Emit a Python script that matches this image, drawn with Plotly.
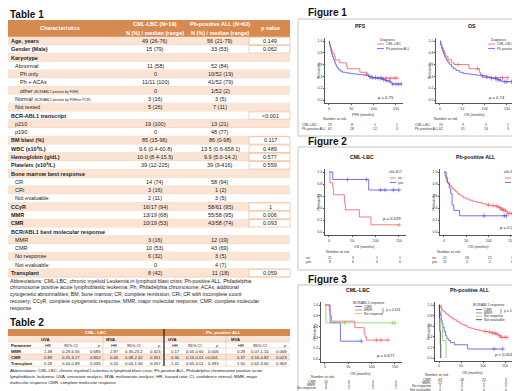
import numpy as np
import plotly.graph_objects as go

W, H = 520, 391
def X(px): return px / W
def Y(py): return 1 - py / H

FONT = "Liberation Sans"
ORANGE = "#D68A50"
PEACH = "#FBE4D4"
ORLINE = "#EDBB98"
TXT = "#1a1a1a"
RED = "#EC5A62"
BLUE = "#5252E6"
GREEN = "#86D064"
BLACK = "#222222"

# ---------------- Table 1 data ----------------
t1_labels = ["Age, years", "Gender (Male)", "Karyotype", "Abnormal", "Ph only", "Ph + ACAs",
             "other <span style='font-size:3.4px'>(BCR/ABL1 positive by FISH)</span>",
             "Normal <span style='font-size:3.4px'>(BCR/ABL1 positive by FISH or PCR)</span>",
             "Not tested", "BCR-ABL1 transcript", "p210", "p190", "BM blast (%)",
             "WBC (x10<sup>9</sup>/L)", "Hemoglobin (g/dL)", "Platelets (x10<sup>9</sup>/L)",
             "Bone marrow best response", "CR", "CRi", "Not evaluable", "CCyR", "MMR", "CMR",
             "BCR/ABL1 best molecular response", "MMR", "CMR", "No response", "Not evaluable",
             "Transplant"]
t1_level = [0, 0, 0, 1, 2, 2, 2, 1, 1, 0, 1, 1, 0, 0, 0, 0, 0, 1, 1, 1, 0, 0, 0, 0, 1, 1, 1, 1, 0]
t1_cml = ["49 (26-76)", "15 (79)", "", "11 (58)", "0", "11/11 (100)", "0", "3 (16)", "5 (26)", "",
          "19 (100)", "0", "85 (15-96)", "9.6 (0.4-60.8)", "10.0 (8.4-15.5)", "39 (12-225)", "",
          "14 (74)", "3 (16)", "2 (11)", "16/17 (94)", "13/19 (68)", "10/19 (53)", "",
          "3 (16)", "10 (53)", "6 (32)", "0", "8 (42)"]
t1_ph = ["56 (21-79)", "33 (53)", "", "52 (84)", "10/52 (19)", "41/52 (79)", "1/52 (2)", "3 (5)",
         "7 (11)", "", "13 (21)", "48 (77)", "86 (0-98)", "13.5 (0.6-658.1)", "9.9 (5.0-14.2)",
         "39 (9-416)", "", "58 (94)", "1 (2)", "3 (5)", "58/61 (95)", "55/58 (95)", "43/58 (74)", "",
         "12 (19)", "43 (69)", "3 (5)", "4 (7)", "11 (18)"]
t1_p = ["0.149", "0.062", "", "", "", "", "", "", "", "&lt;0.001", "", "", "0.117", "0.489", "0.577",
        "0.559", "", "", "", "", "1", "0.006", "0.093", "", "", "", "", "", "0.059"]
t1_abbrev = [
    "Abbreviations: CML-LBC, chronic myeloid Leukemia in lymphoid blast crisis; Ph-positive ALL, Philadelphia",
    "chromosome positive acute lymphoblastic leukemia; Ph, Philadelphia chromosome; ACAs, additional",
    "cytogenetic abnormalities; BM, bone marrow; CR, complete remission; CRi, CR with incomplete count",
    "recovery; CCyR, complete cytogenetic response; MMR, major molecular response; CMR, complete molecular",
    "response"]

# ---------------- Table 2 data ----------------
t2_params = ["MMR", "CMR", "Transplant"]
t2_cml_uva_hr = ["1.38", "0.89", "0.18"]
t2_cml_uva_ci = ["0.29-6.55", "0.25-3.17", "0.04-0.89"]
t2_cml_uva_p = ["0.685", "0.852", "0.035"]
t2_cml_mva_hr = ["2.87", "0.45", "0.20"]
t2_cml_mva_ci = ["0.35-23.2", "0.08-2.42", "0.04-1.05"]
t2_cml_mva_p = ["0.323", "0.351", "0.057"]
t2_ph_uva_hr = ["0.17", "0.30", "1.41"]
t2_ph_uva_ci = ["0.05-0.60", "0.15-0.61", "0.65-3.01"]
t2_ph_uva_p = ["0.006", "&lt;0.001", "0.393"]
t2_ph_mva_hr = ["0.28", "0.37", "1.50"]
t2_ph_mva_ci = ["0.07-1.10", "0.16-0.82", "0.62-3.60"]
t2_ph_mva_p = ["0.068", "0.023", "0.369"]
t2_abbrev = [
    "Abbreviations: CML-LBC, chronic myeloid Leukemia in lymphoid blast crisis; Ph-positive ALL, Philadelphia chromosome positive acute",
    "lymphoblastic leukemia; UVA, univariate analysis; MVA, multivariate analysis; HR, hazard ratio; CI, confidence interval; MMR, major",
    "molecular response CMR, complete molecular response"]

# ---------------- Survival curve data ----------------
f1_pfs_cml_t = [0, 1, 3, 5, 8, 12, 14, 24, 39, 41, 69, 84, 88, 91, 152]
f1_pfs_cml_s = [1.0, 0.95, 0.89, 0.84, 0.79, 0.74, 0.68, 0.63, 0.58, 0.53, 0.47, 0.44, 0.40, 0.37, 0.37]
f1_pfs_cml_c = [84, 118, 128, 137, 146, 152]
f1_pfs_ph_t = [0, 1, 2, 3, 4, 5, 6, 8, 10, 12, 14, 16, 18, 21, 25, 30, 38, 46, 55, 65, 78, 88, 97,
               108, 118, 126, 131, 137, 141, 162]
f1_pfs_ph_s = [1.0, 0.95, 0.92, 0.89, 0.85, 0.81, 0.77, 0.73, 0.69, 0.65, 0.61, 0.58, 0.55, 0.52,
               0.49, 0.47, 0.46, 0.45, 0.44, 0.43, 0.42, 0.40, 0.38, 0.37, 0.35, 0.33, 0.32, 0.30,
               0.27, 0.27]
f1_pfs_ph_c = [92, 98, 104, 110, 116, 122, 128, 135, 143, 150, 156, 162]

f1_os_cml_t = [0, 2, 4, 7, 10, 13, 18, 26, 32, 65, 88, 91, 96, 152]
f1_os_cml_s = [1.0, 0.95, 0.89, 0.84, 0.79, 0.74, 0.68, 0.63, 0.60, 0.53, 0.47, 0.42, 0.38, 0.38]
f1_os_cml_c = [40, 84, 125, 140, 152]
f1_os_ph_t = [0, 1, 2, 4, 6, 8, 10, 12, 15, 18, 22, 26, 30, 36, 44, 52, 62, 72, 82, 92, 104, 114,
              122, 130, 136, 142, 160]
f1_os_ph_s = [1.0, 0.95, 0.92, 0.87, 0.82, 0.78, 0.74, 0.71, 0.67, 0.63, 0.60, 0.56, 0.53, 0.50,
              0.47, 0.45, 0.44, 0.43, 0.42, 0.41, 0.39, 0.37, 0.36, 0.34, 0.32, 0.31, 0.31]
f1_os_ph_c = [95, 105, 115, 125, 130, 135, 145, 150, 160]

f2_cml_no_t = [0, 2, 8, 10, 33, 35, 65, 90, 150]
f2_cml_no_s = [1.0, 0.82, 0.73, 0.62, 0.49, 0.37, 0.25, 0.12, 0.12]
f2_cml_no_c = [150]
f2_cml_yes_t = [0, 8, 85, 150]
f2_cml_yes_s = [1.0, 0.875, 0.70, 0.70]
f2_cml_yes_c = [40, 80, 110, 120, 138, 150]

f2_ph_no_t = [0, 2, 4, 6, 9, 12, 15, 18, 21, 25, 29, 33, 38, 43, 50, 57, 65, 75, 85, 95, 105, 115,
              121, 127, 133, 138, 142, 160]
f2_ph_no_s = [1.0, 0.94, 0.88, 0.84, 0.80, 0.78, 0.76, 0.73, 0.71, 0.68, 0.65, 0.62, 0.60, 0.57,
              0.55, 0.53, 0.51, 0.49, 0.47, 0.45, 0.44, 0.43, 0.41, 0.38, 0.36, 0.34, 0.31, 0.31]
f2_ph_no_c = [100, 110, 118, 124, 128, 131, 134, 137, 145, 150, 155, 160]
f2_ph_yes_t = [0, 5, 8, 12, 15, 18, 22, 35, 140]
f2_ph_yes_s = [1.0, 0.91, 0.82, 0.73, 0.64, 0.45, 0.36, 0.27, 0.27]
f2_ph_yes_c = [90, 135, 140]

f3_cml_cmr_t = [0, 11, 33, 78]
f3_cml_cmr_s = [1.0, 0.67, 0.33, 0.33]
f3_cml_cmr_c = [78]
f3_cml_mmr_t = [0, 9, 11, 14, 64, 84, 86, 89, 135]
f3_cml_mmr_s = [1.0, 0.9, 0.8, 0.7, 0.58, 0.47, 0.41, 0.35, 0.35]
f3_cml_mmr_c = [110, 120, 135]
f3_cml_nr_t = [0, 2, 150]
f3_cml_nr_s = [1.0, 0.67, 0.67]
f3_cml_nr_c = [42, 145, 150]

f3_ph_cmr_t = [0, 1, 2, 3, 5, 7, 9, 12, 15, 18, 22, 26, 35, 65, 145]
f3_ph_cmr_s = [1.0, 0.9, 0.85, 0.8, 0.72, 0.65, 0.58, 0.5, 0.42, 0.36, 0.33, 0.29, 0.25, 0.17, 0.17]
f3_ph_cmr_c = [125, 145]
f3_ph_mmr_t = [0, 2, 4, 6, 9, 12, 15, 18, 22, 26, 30, 35, 40, 46, 52, 58, 64, 72, 80, 90, 100, 110,
               120, 128, 136, 140, 155]
f3_ph_mmr_s = [1.0, 0.97, 0.94, 0.92, 0.89, 0.87, 0.84, 0.82, 0.79, 0.77, 0.74, 0.72, 0.69, 0.66,
               0.63, 0.61, 0.58, 0.56, 0.54, 0.52, 0.50, 0.49, 0.47, 0.45, 0.42, 0.39, 0.39]
f3_ph_mmr_c = [105, 115, 122, 127, 132, 138, 143, 150, 155]
f3_ph_nr_t = [0, 6, 8, 16]
f3_ph_nr_s = [1.0, 0.67, 0.33, 0.0]
f3_ph_nr_c = []
f3_ph_ne_t = [0, 1, 2, 3, 4]
f3_ph_ne_s = [1.0, 0.75, 0.5, 0.25, 0.0]
f3_ph_ne_c = []

# number at risk (times 0, 50, 100, 150)
risk_times = [0, 50, 100, 150]
f1_pfs_risk_cml = [19, 8, 5, 1]
f1_pfs_risk_ph = [62, 28, 22, 3]
f1_os_risk_cml = [19, 9, 5, 1]
f1_os_risk_ph = [62, 31, 24, 3]
f2_cml_risk_no = [11, 3, 1, 1]
f2_cml_risk_yes = [8, 6, 4, 0]
f2_ph_risk_no = [51, 28, 22, 3]
f2_ph_risk_yes = [11, 3, 2, 0]
f3_cml_risk_cmr = [10, 6, 3, 0]
f3_cml_risk_mmr = [3, 1, 0, 0]
f3_cml_risk_nr = [6, 2, 2, 1]
f3_ph_risk_cmr = [43, 28, 22, 3]
f3_ph_risk_mmr = [12, 3, 2, 0]
f3_ph_risk_nr = [3, 0, 0, 0]
f3_ph_risk_ne = [4, 0, 0, 0]

# ---------------- helpers ----------------
ann, shp = [], []

def txt(px, py, s, size=5.5, color=TXT, anchor="left", angle=0):
    if not s:
        return
    ann.append(dict(x=X(px), y=Y(py), xref="paper", yref="paper", text=s, showarrow=False,
                    xanchor=anchor, yanchor="middle", textangle=angle, borderpad=0,
                    font=dict(size=size, color=color, family=FONT)))

def rect(x0, y0, x1, y1, fill=None, line=None, lw=0.6):
    shp.append(dict(type="rect", xref="paper", yref="paper", x0=X(x0), x1=X(x1), y0=Y(y1), y1=Y(y0),
                    fillcolor=fill or "rgba(0,0,0,0)",
                    line=dict(color=line or "rgba(0,0,0,0)", width=lw if line else 0),
                    layer="below"))

def seg(x0, y0, x1, y1, color, lw=0.5, layer="below"):
    shp.append(dict(type="line", xref="paper", yref="paper", x0=X(x0), x1=X(x1), y0=Y(y0), y1=Y(y1),
                    line=dict(color=color, width=lw), layer=layer))

# ---------------- Table 1 ----------------
txt(1, 7, "<b>Table 1</b>", 10, "#111")
rect(0, 12, 282, 29, fill=ORANGE)
hdr_w = "white"
txt(52, 20.5, "<b>Characteristics</b>", 5.5, hdr_w, "center")
txt(147, 16.2, "<b>CML-LBC (N=19)</b>", 5.5, hdr_w, "center")
txt(147, 24.6, "<b>N (%) / median (range)</b>", 5.5, hdr_w, "center")
txt(212, 16.2, "<b>Ph-positive ALL (N=62)</b>", 5.5, hdr_w, "center")
txt(212, 24.6, "<b>N (%) / median (range)</b>", 5.5, hdr_w, "center")
txt(262, 20.5, "<b>p value</b>", 5.5, hdr_w, "center")

rh = (265 - 33) / 28
for i, lab in enumerate(t1_labels):
    yc = 33 + i * rh
    y0, y1 = yc - rh / 2, yc + rh / 2
    rect(0, y0, 282, y1, fill=PEACH if i % 2 == 0 else "white")
    seg(0, y1, 282, y1, ORLINE, 0.5)
    if t1_p[i]:
        rect(241, y0 + 0.4, 282, y1 - 0.4, fill="white", line="#E3A070", lw=0.5)
    lv = t1_level[i]
    lbl = f"<b>{lab}</b>" if lv == 0 else lab
    txt(1.5 + 4.5 * lv, yc, lbl, 5.5)
    txt(147, yc, t1_cml[i], 5.5, anchor="center")
    txt(212, yc, t1_ph[i], 5.5, anchor="center")
    txt(262, yc, t1_p[i], 5.5, anchor="center")

for k, line in enumerate(t1_abbrev):
    txt(0.5, 272.5 + k * 6.8, line, 5.15)

# ---------------- Table 2 ----------------
txt(1, 314, "<b>Table 2</b>", 10, "#111")
rect(0, 321, 282, 328, fill=ORANGE)
rect(0, 328, 282, 334, fill=PEACH)
rect(0, 346, 282, 352, fill=PEACH)
for yy in [334, 340, 346, 352, 358]:
    seg(0, yy, 282, yy, ORLINE, 0.5)
txt(88, 324.5, "<b>CML- LBC</b>", 4.4, "white", "center")
txt(215, 324.5, "<b>Ph- positive ALL</b>", 4.4, "white", "center")
seg(156, 321, 156, 358, "#333", 1.4, "above")
for xx in [95, 218]:
    seg(xx, 328, xx, 358, "#B8B8B8", 0.5)

hr_c = [40, 106, 167, 233]
ci_c = [63, 126, 187, 252]
p_r = [94, 154, 212, 280]
grp_l = [32, 97, 159, 222]
for g in range(4):
    txt(grp_l[g], 331, "<b>UVA</b>" if g % 2 == 0 else "<b>MVA</b>", 4.2)
    txt(hr_c[g], 337, "HR", 4.2, anchor="center")
    txt(ci_c[g], 337, "95% CI", 4.2, anchor="center")
    txt(p_r[g], 337, "<i>p</i>", 4.2, anchor="right")
txt(1.5, 337, "<b>Parameter</b>", 4.2)
cols = [(t2_cml_uva_hr, t2_cml_uva_ci, t2_cml_uva_p), (t2_cml_mva_hr, t2_cml_mva_ci, t2_cml_mva_p),
        (t2_ph_uva_hr, t2_ph_uva_ci, t2_ph_uva_p), (t2_ph_mva_hr, t2_ph_mva_ci, t2_ph_mva_p)]
for r, par in enumerate(t2_params):
    yc = 343 + 6 * r
    txt(1.5, yc, f"<b>{par}</b>", 4.2)
    for g, (hr, ci, pv) in enumerate(cols):
        txt(hr_c[g], yc, hr[r], 4.2, anchor="center")
        txt(ci_c[g], yc, ci[r], 4.2, anchor="center")
        txt(p_r[g], yc, pv[r], 4.2, anchor="right")
for k, line in enumerate(t2_abbrev):
    txt(0.5, 362.5 + k * 6.2, line, 4.25)

# ---------------- Figures ----------------
for ttl, (bx0, by0, bx1, by1) in [("Figure 1", (290, 11, 518, 128)),
                                  ("Figure 2", (290, 139, 518, 262)),
                                  ("Figure 3", (290, 277, 518, 390))]:
    rect(bx0, by0, bx1, by1, line="#BDBDBD", lw=0.9)
    txt(299, by0 - 6, f"<b>{ttl}</b>", 10, "#111")

XR = [-8, 165]
YR = [-0.05, 1.05]

panels = [
    dict(x0=321, x150=388, y1=33, y0=92, title="PFS", xt="PFS (months)",
         curves=[(f1_pfs_cml_t, f1_pfs_cml_s, f1_pfs_cml_c, RED), (f1_pfs_ph_t, f1_pfs_ph_s, f1_pfs_ph_c, BLUE)],
         leg_title="Diagnosis", leg=[("CML-LBC", RED), ("Ph-positive ALL", BLUE)],
         leg_pos=(58, -1, 48, 55, 3, 4.6),
         pv="p = 0.75", pv_pos=(57, -2),
         risk=[("CML-LBC", f1_pfs_risk_cml), ("Ph-positive ALL", f1_pfs_risk_ph)],
         risk_lab=(293, "left"), risk_y=(25, 4.4), nar=(6, 19)),
    dict(x0=432, x150=499, y1=33, y0=92, title="OS", xt="OS (months)",
         curves=[(f1_os_cml_t, f1_os_cml_s, f1_os_cml_c, RED), (f1_os_ph_t, f1_os_ph_s, f1_os_ph_c, BLUE)],
         leg_title="Diagnosis", leg=[("CML-LBC", RED), ("Ph-positive ALL", BLUE)],
         leg_pos=(58, -1, 48, 55, 3, 4.6),
         pv="p = 0.74", pv_pos=(57, -2),
         risk=[("CML-LBC", f1_os_risk_cml), ("Ph-positive ALL", f1_os_risk_ph)],
         risk_lab=(406, "left"), risk_y=(25, 4.4), nar=(6, 19)),
    dict(x0=321, x150=391, y1=164, y0=224, title="CML-LBC", xt="OS (months)",
         curves=[(f2_cml_no_t, f2_cml_no_s, f2_cml_no_c, RED), (f2_cml_yes_t, f2_cml_yes_s, f2_cml_yes_c, BLUE)],
         leg_title="allo-SCT", leg=[("no", RED), ("yes", BLUE)],
         leg_pos=(66, 0, 61, 67, 5, 4.5),
         pv="p = 0.019", pv_pos=(63, -13),
         risk=[("no", f2_cml_risk_no), ("yes", f2_cml_risk_yes)],
         risk_lab=(297, "left"), risk_y=(25.5, 4), nar=(9, 20)),
    dict(x0=436, x150=503, y1=164, y0=224, title="Ph-positive ALL", xt="OS (months)",
         curves=[(f2_ph_no_t, f2_ph_no_s, f2_ph_no_c, RED), (f2_ph_yes_t, f2_ph_yes_s, f2_ph_yes_c, BLUE)],
         leg_title="allo-SCT", leg=[("no", RED), ("yes", BLUE)],
         leg_pos=(66, 0, 61, 67, 5, 4.5),
         pv="p = 0.252", pv_pos=(65, -5),
         risk=[("no", f2_ph_risk_no), ("yes", f2_ph_risk_yes)],
         risk_lab=(423, "left"), risk_y=(25.5, 4), nar=(5, 20)),
    dict(x0=317, x150=387, y1=297, y0=351, title="CML-LBC", xt="OS (months)",
         curves=[(f3_cml_cmr_t, f3_cml_cmr_s, f3_cml_cmr_c, BLUE), (f3_cml_mmr_t, f3_cml_mmr_s, f3_cml_mmr_c, RED),
                 (f3_cml_nr_t, f3_cml_nr_s, f3_cml_nr_c, GREEN)],
         leg_title="BCR/ABL1 response", leg=[("CMR", BLUE), ("MMR", RED), ("No response", GREEN)],
         leg_pos=(43, -2.5, 30, 37, 3, 3.5), bracket=(58, 5.3, "p = 0.318"),
         pv="p = 0.677", pv_pos=(61, -3.5),
         risk=[("CMR", f3_cml_risk_cmr), ("MMR", f3_cml_risk_mmr), ("No response", f3_cml_risk_nr)],
         risk_lab=(309, "right"), risk_y=(22.5, 3.4), nar=(-2, 18)),
    dict(x0=431, x150=497, y1=297, y0=350, title="Ph-positive ALL", xt="OS (months)",
         curves=[(f3_ph_mmr_t, f3_ph_mmr_s, f3_ph_mmr_c, RED), (f3_ph_cmr_t, f3_ph_cmr_s, f3_ph_cmr_c, BLUE),
                 (f3_ph_nr_t, f3_ph_nr_s, f3_ph_nr_c, GREEN), (f3_ph_ne_t, f3_ph_ne_s, f3_ph_ne_c, BLACK)],
         leg_title="BCR/ABL1 response", leg=[("CMR", BLUE), ("MMR", RED), ("No response", GREEN),
                                             ("Not evaluable", BLACK)],
         leg_pos=(49, -0.5, 37, 43, 4, 3.4), bracket=(62, 5.8, "p = 0.002"),
         pv="p &lt; 0.001", pv_pos=(65, -4),
         risk=[("CMR", f3_ph_risk_cmr), ("MMR", f3_ph_risk_mmr), ("No response", f3_ph_risk_nr),
               ("Not evaluable", f3_ph_risk_ne)],
         risk_lab=(424, "right"), risk_y=(21.5, 3.4), nar=(-2, 17)),
]

fig = go.Figure()
layout_axes = {}
AX = "#555555"
for k, p in enumerate(panels):
    sfx = "" if k == 0 else str(k + 1)
    sx = (p["x150"] - p["x0"]) / 150
    left, right = p["x0"] + XR[0] * sx, p["x0"] + XR[1] * sx
    sy = p["y0"] - p["y1"]
    top, bot = p["y1"] - (YR[1] - 1) * sy, p["y0"] - YR[0] * sy
    common = dict(showline=True, linecolor=AX, linewidth=0.5, ticks="outside", ticklen=1.5,
                  tickwidth=0.5, tickcolor=AX, showgrid=False, zeroline=False, fixedrange=True,
                  tickfont=dict(size=3.6, color="#333", family=FONT))
    layout_axes["xaxis" + sfx] = dict(domain=[X(left), X(right)], range=XR, anchor="y" + sfx,
                                      tickvals=risk_times, **common)
    layout_axes["yaxis" + sfx] = dict(domain=[Y(bot), Y(top)], range=YR, anchor="x" + sfx,
                                      tickvals=[0, 0.2, 0.4, 0.6, 0.8, 1.0],
                                      ticktext=["0.0", "0.2", "0.4", "0.6", "0.8", "1.0"], **common)
    for (t, s, c, col) in p["curves"]:
        fig.add_trace(go.Scatter(x=t, y=s, mode="lines", line=dict(color=col, width=0.8, shape="hv"),
                                 xaxis="x" + sfx, yaxis="y" + sfx, showlegend=False, hoverinfo="skip"))
        if c:
            ta, sa = np.array(t), np.array(s)
            idx = np.searchsorted(ta, np.array(c), side="right") - 1
            fig.add_trace(go.Scatter(x=c, y=sa[idx], mode="markers",
                                     marker=dict(symbol="cross-thin", size=3.2,
                                                 line=dict(color=col, width=0.6)),
                                     xaxis="x" + sfx, yaxis="y" + sfx, showlegend=False,
                                     hoverinfo="skip"))
    x0, y0, y1 = p["x0"], p["y0"], p["y1"]
    xmid = x0 + 75 * sx
    txt(xmid - 2, y1 - 15, f"<b>{p['title']}</b>", 5.2, "#111", "center")
    txt(x0 - 10.5, (y0 + y1) / 2, "Probability", 3.6, "#333", "center", -90)
    txt(xmid, y0 + 15, p["xt"], 3.6, "#333", "center")
    lx, ly, la, lb, lstart, lstep = p["leg_pos"]
    txt(x0 + lx, y1 + ly, p["leg_title"], 3.4, "#333", "center")
    for j, (name, col) in enumerate(p["leg"]):
        yy = y1 + ly + lstart + 1 + j * lstep
        seg(x0 + la, yy, x0 + lb, yy, col, 0.8, "above")
        txt(x0 + lb + 1, yy, name, 3.4, "#333")
    if "bracket" in p:
        bx, by, bt = p["bracket"]
        txt(x0 + bx, y1 + by, "}", 5.5, "#333", "center")
        txt(x0 + bx + 2, y1 + by, bt, 3.4, "#333")
    txt(x0 + p["pv_pos"][0], y0 + p["pv_pos"][1], p["pv"], 4.2, "#222", "center")
    txt(x0 + p["nar"][0], y0 + p["nar"][1], "Number at risk", 3.6, "#333", "center")
    ry0, rstep = p["risk_y"]
    lxp, lanchor = p["risk_lab"]
    for j, (name, vals) in enumerate(p["risk"]):
        yy = y0 + ry0 + j * rstep
        txt(lxp, yy, name, 3.4, "#333", lanchor)
        for tt, v in zip(risk_times, vals):
            txt(x0 + tt * sx + 1, yy, str(v), 3.4, "#333", "center")

fig.update_layout(width=W, height=H, margin=dict(l=0, r=0, t=0, b=0),
                  paper_bgcolor="white", plot_bgcolor="rgba(0,0,0,0)",
                  annotations=ann, shapes=shp, **layout_axes)
fig.write_html("out.html")
